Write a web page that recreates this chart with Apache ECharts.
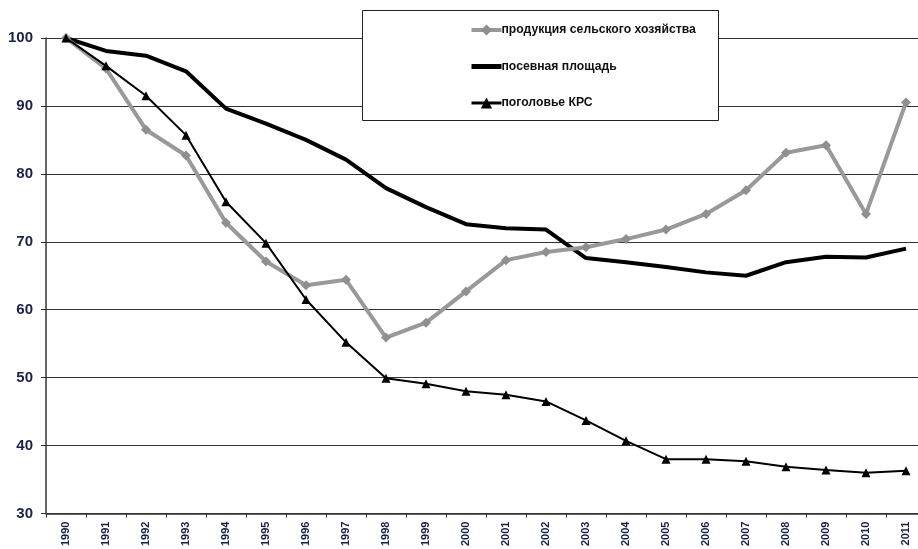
<!DOCTYPE html>
<html>
<head>
<meta charset="utf-8">
<script src="https://cdn.jsdelivr.net/npm/echarts@6/dist/echarts.min.js"></script>
<style>html,body{margin:0;padding:0;background:#fff;overflow:hidden;width:918px;height:549px;}#c{width:926px;height:549px;}</style>
</head>
<body>
<div id="c"></div>
<script>
var years = ['1990','1991','1992','1993','1994','1995','1996','1997','1998','1999','2000','2001','2002','2003','2004','2005','2006','2007','2008','2009','2010','2011'];
var agriProduction = [100, 95.5, 86.5, 82.7, 72.8, 67.1, 63.6, 64.4, 55.9, 58.1, 62.7, 67.3, 68.5, 69.2, 70.4, 71.8, 74.1, 77.6, 83.1, 84.2, 74.1, 90.5];
var sownArea = [100, 98.1, 97.4, 95.1, 89.6, 87.4, 85.0, 82.1, 77.9, 75.1, 72.6, 72.0, 71.8, 67.6, 67.0, 66.3, 65.5, 65.0, 67.0, 67.8, 67.7, 69.0];
var cattle = [100, 95.9, 91.5, 85.7, 75.9, 69.8, 61.5, 55.2, 49.9, 49.1, 48.0, 47.5, 46.5, 43.7, 40.7, 38.0, 38.0, 37.7, 36.9, 36.4, 36.0, 36.3];
var seriesNames = ['продукция сельского хозяйства', 'посевная площадь', 'поголовье КРС'];

var chart = echarts.init(document.getElementById('c'), null, {renderer: 'canvas'});
var labelColor = '#1a2048';
chart.setOption({
  animation: false,
  backgroundColor: '#ffffff',
  textStyle: {fontFamily: 'Liberation Sans, Arial, sans-serif'},
  grid: {left: 46, top: 38, right: 0, height: 478, containLabel: false},
  graphic: [{
    type: 'rect', left: 362, top: 10, z: 5,
    shape: {width: 356, height: 110},
    style: {fill: '#fff', stroke: '#222', lineWidth: 1}
  }],
  legend: {
    orient: 'vertical', left: 464, top: 19, z: 10,
    itemWidth: 30, itemHeight: 14, itemGap: 24.5,
    textStyle: {fontFamily: 'Liberation Sans, Arial, sans-serif', fontWeight: 'bold', fontSize: 12.2, color: '#111', padding: [0,0,0,-5]},
    data: [
      {name: seriesNames[0], lineStyle: {width: 4, color: '#999'}},
      {name: seriesNames[1], itemStyle: {opacity: 0}, lineStyle: {width: 5, color: '#000'}},
      {name: seriesNames[2], lineStyle: {width: 3, color: '#000'}}
    ]
  },
  xAxis: {
    type: 'category', data: years, boundaryGap: true,
    axisLine: {lineStyle: {color: '#333', width: 1.5}},
    axisTick: {show: true, length: 4, lineStyle: {color: '#333'}},
    axisLabel: {rotate: 90, fontSize: 11, fontWeight: 'bold', color: labelColor, margin: 8, interval: 0}
  },
  yAxis: {
    type: 'value', min: 30, max: 100, interval: 10,
    axisLine: {show: true, lineStyle: {color: '#333', width: 1.5}},
    axisTick: {show: true, length: 5, lineStyle: {color: '#333'}},
    axisLabel: {fontSize: 15, fontWeight: 'bold', color: labelColor, margin: 13},
    splitLine: {lineStyle: {color: '#333', width: 1.2}}
  },
  series: [
    {name: seriesNames[0], type: 'line', data: agriProduction, symbol: 'diamond', symbolSize: 10,
     lineStyle: {color: '#999', width: 4}, itemStyle: {color: '#8f8f8f'}, z: 3},
    {name: seriesNames[1], type: 'line', data: sownArea, symbol: 'none', showSymbol: false,
     lineStyle: {color: '#000', width: 4}, itemStyle: {color: '#000'}, z: 2},
    {name: seriesNames[2], type: 'line', data: cattle, symbol: 'triangle', symbolSize: 9,
     lineStyle: {color: '#000', width: 2}, itemStyle: {color: '#000'}, z: 4}
  ]
});
</script>
</body>
</html>
